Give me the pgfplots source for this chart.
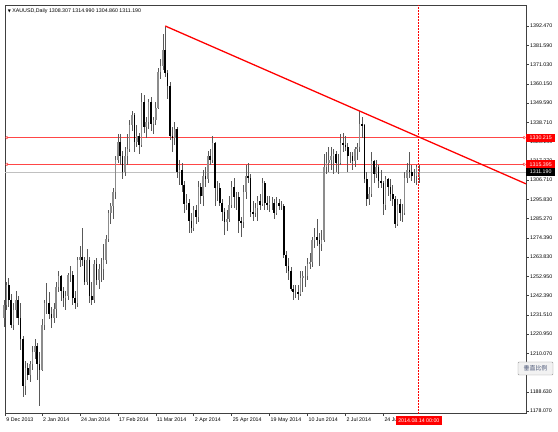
\documentclass[border=0pt]{standalone}
\usepackage{fontspec}
\setmainfont{Liberation Sans}
\newfontfamily\cjk{Noto Sans CJK SC}
\newfontfamily\djv{DejaVu Sans}
\usepackage{pgfplots}
\pgfplotsset{compat=1.18}
\usepackage{pgfplotstable}

\definecolor{mtred}{RGB}{255,0,0}
\definecolor{levelred}{RGB}{255,70,70}
\definecolor{bidline}{RGB}{192,192,192}
\definecolor{btntext}{RGB}{70,82,115}
\newcommand{\mtfont}{\fontsize{5.3}{6}\selectfont}

% XAUUSD daily, 9 Dec 2013 .. 14 Aug 2014 (bar index, open, high, low, close)
\pgfplotstableread{
i o h l c
0 1230 1240 1225 1237
1 1237 1250 1234 1248
2 1248 1252 1236 1240
3 1240 1243 1224 1226
4 1226 1238 1223 1234
5 1234 1245 1230 1240
6 1240 1242 1226 1230
7 1230 1238 1212 1218
8 1218 1220 1186 1192
9 1192 1206 1187 1202
10 1202 1205 1195 1198
11 1198 1206 1194 1204
12 1204 1214 1201 1211
13 1211 1218 1207 1214
14 1214 1216 1195 1204
15 1204 1211 1181 1201
16 1201 1229 1200 1226
17 1226 1240 1223 1238
18 1238 1249 1232 1238
19 1238 1244 1229 1232
20 1232 1236 1224 1230
21 1230 1238 1227 1235
22 1235 1250 1230 1247
23 1247 1256 1244 1253
24 1253 1254 1239 1245
25 1245 1247 1236 1241
26 1241 1245 1234 1242
27 1242 1255 1240 1254
28 1254 1259 1250 1254
29 1254 1256 1237 1241
30 1241 1245 1235 1238
31 1238 1264 1236 1262
32 1262 1270 1258 1264
33 1264 1280 1259 1262
34 1262 1264 1248 1250
35 1250 1268 1248 1262
36 1262 1264 1238 1242
37 1242 1250 1237 1240
38 1240 1262 1238 1260
39 1260 1263 1248 1251
40 1251 1260 1246 1257
41 1257 1263 1250 1257
42 1257 1271 1251 1262
43 1262 1276 1260 1274
44 1274 1290 1272 1288
45 1288 1294 1282 1292
46 1292 1302 1285 1300
47 1300 1320 1296 1318
48 1318 1332 1316 1328
49 1328 1332 1315 1320
50 1320 1323 1307 1311
51 1311 1325 1309 1320
52 1320 1332 1315 1324
53 1324 1340 1322 1337
54 1337 1345 1334 1343
55 1343 1344 1322 1328
56 1328 1337 1325 1331
57 1331 1333 1321 1326
58 1326 1355 1325 1350
59 1350 1354 1333 1336
60 1336 1342 1330 1339
61 1339 1352 1335 1350
62 1350 1353 1334 1338
63 1338 1342 1332 1340
64 1340 1350 1337 1347
65 1347 1369 1346 1367
66 1367 1374 1363 1370
67 1370 1388 1368 1379
68 1379 1392 1364 1366
69 1366 1368 1352 1359
70 1359 1361 1329 1331
71 1331 1336 1322 1330
72 1330 1339 1326 1335
73 1335 1336 1308 1311
74 1311 1318 1304 1312
75 1312 1316 1300 1304
76 1304 1306 1288 1293
77 1293 1299 1290 1294
78 1294 1296 1277 1284
79 1284 1288 1277 1280
80 1280 1292 1278 1290
81 1290 1293 1282 1286
82 1286 1306 1283 1303
83 1303 1305 1293 1298
84 1298 1312 1292 1309
85 1309 1314 1303 1307
86 1307 1323 1305 1320
87 1320 1324 1315 1318
88 1318 1331 1316 1327
89 1327 1328 1292 1302
90 1302 1306 1295 1302
91 1302 1305 1292 1294
92 1294 1296 1284 1289
93 1289 1291 1276 1283
94 1283 1290 1278 1285
95 1285 1298 1283 1293
96 1293 1306 1291 1303
97 1303 1308 1291 1297
98 1297 1300 1290 1297
99 1297 1300 1277 1284
100 1284 1286 1275 1283
101 1283 1304 1280 1300
102 1300 1315 1296 1309
103 1309 1316 1305 1308
104 1308 1310 1286 1289
105 1289 1295 1284 1288
106 1288 1294 1286 1291
107 1291 1298 1284 1295
108 1295 1299 1290 1293
109 1293 1308 1292 1305
110 1305 1306 1290 1294
111 1294 1298 1290 1293
112 1293 1298 1289 1294
113 1294 1297 1290 1294
114 1294 1296 1285 1288
115 1288 1297 1287 1294
116 1294 1296 1290 1292
117 1292 1295 1290 1292
118 1292 1293 1263 1265
119 1265 1267 1255 1259
120 1259 1263 1251 1256
121 1256 1258 1245 1246
122 1246 1248 1240 1244
123 1244 1248 1241 1244
124 1244 1248 1240 1243
125 1243 1256 1242 1252
126 1252 1256 1244 1253
127 1253 1259 1247 1253
128 1253 1263 1251 1260
129 1260 1266 1257 1261
130 1261 1275 1258 1273
131 1273 1280 1269 1275
132 1275 1285 1270 1273
133 1273 1277 1259 1271
134 1271 1279 1267 1273
135 1273 1321 1272 1314
136 1314 1322 1310 1316
137 1316 1325 1311 1318
138 1318 1325 1312 1320
139 1320 1324 1310 1321
140 1321 1323 1311 1316
141 1316 1321 1310 1316
142 1316 1332 1315 1327
143 1327 1333 1322 1326
144 1326 1331 1323 1325
145 1325 1327 1311 1320
146 1320 1322 1316 1320
147 1320 1322 1312 1317
148 1317 1325 1314 1324
149 1324 1327 1318 1325
150 1325 1345 1322 1338
151 1338 1342 1330 1337
152 1337 1338 1305 1307
153 1307 1311 1292 1296
154 1296 1303 1293 1299
155 1299 1322 1297 1317
156 1317 1318 1305 1310
157 1310 1318 1308 1314
158 1314 1315 1302 1306
159 1306 1312 1302 1305
160 1305 1306 1287 1293
161 1293 1309 1290 1307
162 1307 1308 1298 1303
163 1303 1307 1295 1299
164 1299 1304 1292 1296
165 1296 1298 1280 1282
166 1282 1296 1281 1293
167 1293 1296 1284 1288
168 1288 1293 1283 1288
169 1288 1311 1287 1308
170 1308 1316 1305 1312
171 1312 1322 1308 1311
172 1311 1315 1306 1309
173 1309 1313 1305 1309
174 1309 1315 1304 1314
175 1308.307 1314.990 1304.860 1311.190
}\gold

\pgfplotsset{level line/.style={draw=levelred, line width=1.1bp, mark=o, mark size=1.3bp,
  mark options={draw=levelred, line width=0.5bp}}}

\begin{document}
\begin{tikzpicture}
\fill[white] (0,0) rectangle (558bp,432bp);
\begin{axis}[
    at={(5bp,18.5bp)}, anchor=south west,
    scale only axis, width=521bp, height=408.5bp,
    xmin=0.4, xmax=220.2, ymin=1176.6, ymax=1404.1,
    clip=false,
    axis line style={black!75, line width=0.6bp},
    tick align=outside, major tick length=2.5bp,
    tick style={black!75, line width=0.5bp},
    ytick pos=right, xtick pos=bottom,
    ytick={1178.07,1188.63,1199.51,1210.07,1220.95,1231.51,1242.39,1252.95,1263.83,1274.39,1285.27,1295.83,1306.71,1317.27,1328.15,1338.71,1349.59,1360.15,1371.03,1381.59,1392.47},
    yticklabel style={font=\mtfont, anchor=west, inner sep=0pt, xshift=1.5bp,
      /pgf/number format/.cd, fixed, fixed zerofill, precision=3, 1000 sep={}, assume math mode=true},
    xtick={0.5,16,32,48,64,80,96,112,128,144,160},
    xticklabels={9 Dec 2013, 2 Jan 2014, 24 Jan 2014, 17 Feb 2014, 11 Mar 2014, 2 Apr 2014, 25 Apr 2014, 19 May 2014, 10 Jun 2014, 2 Jul 2014, 24 Jul 2014},
    xticklabel style={font=\mtfont, anchor=north west, inner sep=0pt, xshift=1bp, yshift=-1.5bp},
  ]
% bid line and horizontal levels
\addplot[draw=bidline, line width=0.6bp] coordinates {(0.4,1311.19) (220.2,1311.19)};
\addplot[level line] coordinates {(1.2,1315.395) (219.4,1315.395)};
\addplot[level line] coordinates {(1.2,1330.215) (219.4,1330.215)};
% wicks
\addplot[draw=none, error bars/.cd, y dir=both, y explicit, error mark=none,
    error bar style={draw=black!65, line width=0.6bp}]
  table[x=i, y expr={(\thisrow{h}+\thisrow{l})/2}, y error expr={(\thisrow{h}-\thisrow{l})/2}] {\gold};
% bull bodies
\addplot[draw=none, restrict expr to domain={\thisrow{c}-\thisrow{o}}{0:1000},
    error bars/.cd, y dir=both, y explicit, error mark=none,
    error bar style={draw=black!45, line width=1.6bp}]
  table[x=i, y expr={(\thisrow{o}+\thisrow{c})/2}, y error expr={abs(\thisrow{c}-\thisrow{o})/2}] {\gold};
% bear bodies
\addplot[draw=none, restrict expr to domain={\thisrow{c}-\thisrow{o}}{-1000:-0.0001},
    error bars/.cd, y dir=both, y explicit, error mark=none,
    error bar style={draw=black, line width=1.6bp}]
  table[x=i, y expr={(\thisrow{o}+\thisrow{c})/2}, y error expr={abs(\thisrow{c}-\thisrow{o})/2}] {\gold};
% trend line and time cursor
\addplot[draw=mtred, line width=1.3bp] coordinates {(68,1392.4) (220.2,1304.5)};
\addplot[draw=mtred, line width=0.8bp, dash pattern=on 1.5bp off 1.5bp] coordinates {(175,1176.6) (175,1404.1)};
\coordinate (tagA) at ({rel axis cs:1,0} |- {axis cs:0,1330.215});
\coordinate (tagB) at ({rel axis cs:1,0} |- {axis cs:0,1315.395});
\coordinate (tagC) at ({rel axis cs:1,0} |- {axis cs:0,1311.19});
\coordinate (tagD) at ({axis cs:175,0} |- {rel axis cs:0,0});
\node[anchor=west, font=\mtfont, inner sep=0pt] at (rel axis cs:0.005,0.985)
  {{\djv\fontsize{4}{5}\selectfont ▼}\ XAUUSD,Daily 1308.307 1314.990 1304.860 1311.190};
\end{axis}
% price tags drawn over the scale
\node[fill=mtred, text=white, font=\mtfont, anchor=west, minimum width=29bp, minimum height=8bp, inner sep=0pt]
  at (tagA) {1330.215};
\node[fill=mtred, text=white, font=\mtfont, anchor=west, minimum width=29bp, minimum height=8bp, inner sep=0pt]
  at (tagB) {1315.395};
\node[fill=black, text=white, font=\mtfont, anchor=west, minimum width=29bp, minimum height=8bp, inner sep=0pt]
  at (tagC) {1311.190};
\node[fill=mtred, text=white, font=\mtfont, minimum width=46bp, minimum height=8.5bp, inner sep=0pt, anchor=north, yshift=-2.5bp]
  at (tagD) {2014.08.14 00:00};
\node[draw=black!40, fill=black!5, rounded corners=1bp, text=btntext, minimum width=35bp, minimum height=13bp, inner sep=0pt]
  at (535.5bp,63.5bp) {\cjk\fontsize{6}{7}\selectfont 垂直比例};
\end{tikzpicture}
\end{document}
